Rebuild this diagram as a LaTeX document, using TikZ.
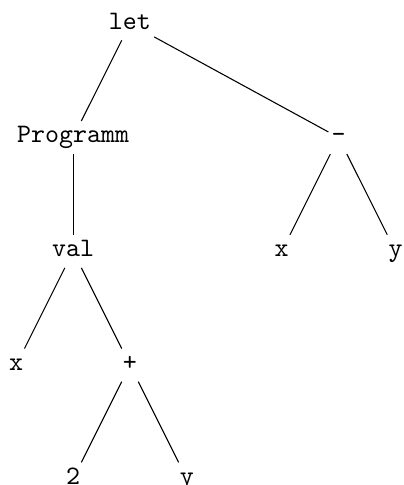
\documentclass[tikz,border=0pt]{standalone}
\usepackage{tikz}
\usetikzlibrary{positioning}

\begin{document}
\begin{tikzpicture}[
  node distance=15mm and 7.5mm,
  on grid,
  font=\ttfamily,
  term/.style={
    inner sep=1pt,
    text height=7pt,
    text depth=3pt
  },
  link/.style={
    line width=0.4pt
  }
]
\useasboundingbox (-48.75pt,-173pt) rectangle (102.4pt,8.9pt);
\node[term] (let) {let};
\node[
  term,
  below left=of let
] (prog)
{Programm};
\node[
  term,
  below right=15mm and 27.5mm of let
] (minus)
{-};
\node[term, below=of prog] (val) {val};
\node[term, below left=of val] (xa) {x};
\node[term, below right=of val] (plus) {+};
\node[term, below left=of plus] (two) {2};
\node[term, below right=of plus] (ya) {y};
\node[term, below left=of minus] (xb) {x};
\node[term, below right=of minus] (yb) {y};
% tree edges
\draw[link] (let) -- (prog);
\draw[link] (let) -- (minus);
\draw[link] (prog) -- (val);
\draw[link] (val) -- (xa);
\draw[link] (val) -- (plus);
\draw[link] (plus) -- (two);
\draw[link] (plus) -- (ya);
\draw[link] (minus) -- (xb);
\draw[link] (minus) -- (yb);
\end{tikzpicture}
\end{document}
